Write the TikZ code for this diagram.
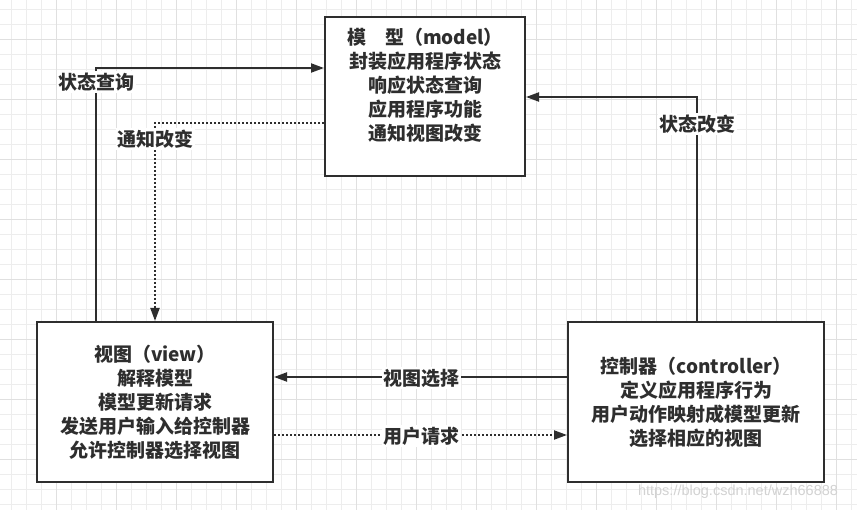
\documentclass[tikz,border=0pt]{standalone}
\usepackage{fontspec}
\newfontfamily\cjk{Noto Sans CJK SC}
\newfontfamily\wmfont{Liberation Sans}
\usetikzlibrary{arrows.meta}
\definecolor{ink}{HTML}{2E2E2E}
\definecolor{gridminor}{HTML}{EDEDED}
\definecolor{gridmajor}{HTML}{E0E0E0}
\definecolor{wmcol}{HTML}{D2D2D2}
\tikzset{
  box/.style={draw=ink, line width=2pt, fill=white, inner sep=0pt},
  txt/.style={text=ink, align=center, font=\cjk\bfseries\fontsize{19}{24}\selectfont, inner sep=0pt},
  lbl/.style={text=ink, fill=white, font=\cjk\bfseries\fontsize{19}{22}\selectfont, inner sep=1.5pt},
  conn/.style={draw=ink, line width=2pt, -{Triangle[length=13pt,width=9pt]}},
  dotconn/.style={conn, dash pattern=on 1.6pt off 2.4pt},
}
\begin{document}
\begin{tikzpicture}[x=1pt,y=-1pt]
\useasboundingbox (0,0) rectangle (857,510);
\fill[white] (0,0) rectangle (857,510);
% grid
\foreach \k in {0,...,56} {\draw[gridminor, line width=1pt] ({11.7+15*\k},0) -- ({11.7+15*\k},510);}
\foreach \k in {0,...,33} {\draw[gridminor, line width=1pt] (0,{9.3+15*\k}) -- (857,{9.3+15*\k});}
\foreach \k in {0,...,13} {\draw[gridmajor, line width=1pt] ({56.7+60*\k},0) -- ({56.7+60*\k},510);}
\foreach \k in {0,...,7} {\draw[gridmajor, line width=1pt] (0,{39.3+60*\k}) -- (857,{39.3+60*\k});}

% boxes
\node[box, minimum width=200pt, minimum height=159pt] (model) at (425,96.5) {};
\node[txt] (modeltxt) at (425,85) {模　型（model）\\封装应用程序状态\\响应状态查询\\应用程序功能\\通知视图改变};
\node[box, txt, draw=ink, line width=2pt, fill=white, minimum width=236pt, minimum height=160pt] (view) at (155,402) {视图（view）\\解释模型\\模型更新请求\\发送用户输入给控制器\\允许控制器选择视图};
\node[box, txt, draw=ink, line width=2pt, fill=white, minimum width=256pt, minimum height=160pt] (ctrl) at (696,402) {控制器（controller）\\定义应用程序行为\\用户动作映射成模型更新\\选择相应的视图};

% corner coordinates
\coordinate (q1) at (96,68);
\coordinate (n1) at (155,123);
\coordinate (s1) at (697,97);
\coordinate (v1) at (420,377);
\coordinate (u1) at (420,435);

% connectors
\draw[conn] (view.north -| q1) -- (q1) -- (q1 -| model.west);
\draw[dotconn] (n1 -| model.west) -- (n1) -- (n1 |- view.north);
\draw[conn] (s1 |- ctrl.north) -- (s1) -- (s1 -| model.east);
\draw[conn] (v1 -| ctrl.west) -- (v1 -| view.east);
\draw[dotconn] (u1 -| view.east) -- (u1 -| ctrl.west);

% labels
\node[lbl] (lq) at (96,82) {状态查询};
\node[lbl] (ln) at (155,139) {通知改变};
\node[lbl] (ls) at (697,124) {状态改变};
\node[lbl] (lv) at (421,378) {视图选择};
\node[lbl] (lu) at (421,436) {用户请求};

% watermark
\node[text=wmcol, font=\wmfont\fontsize{14.5}{16}\selectfont, inner sep=0pt] (wm) at (738,492) {https://blog.csdn.net/wzh66888};
\end{tikzpicture}
\end{document}
